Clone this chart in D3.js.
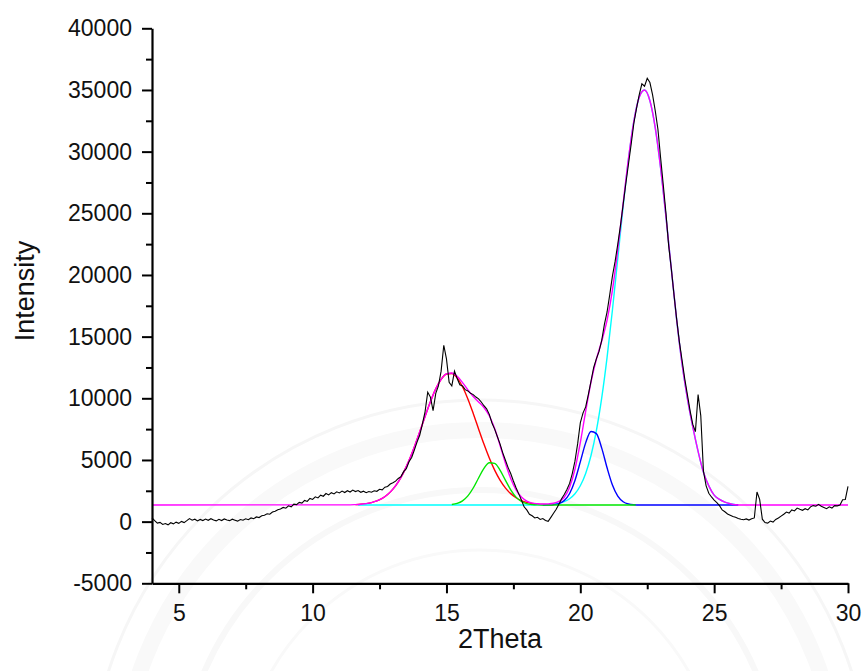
<!DOCTYPE html>
<html>
<head>
<meta charset="utf-8">
<script src="https://cdn.jsdelivr.net/npm/d3@7"></script>
<style>
  html, body { margin: 0; padding: 0; background: #fff; }
  svg { display: block; }
  text { font-family: "Liberation Sans", Arial, sans-serif; fill: #111; }
</style>
</head>
<body>
<svg id="chart" width="863" height="671"></svg>
<script>
// ---- measured XRD pattern (2Theta, intensity), step 0.1 deg ----
const scanStart = 4.0;
const scanStep = 0.1;
const intensity = [
  300, 80, -120, -60, -230, -150, -260, -90, -180, -40,
  -140, 20, -80, 80, 250, 120, 200, 60, 180, 90,
  210, 110, 240, 130, 60, 190, 90, 220, 140, 80,
  200, 120, 40, 170, 110, 230, 160, 300, 240, 380,
  330, 470, 520, 640, 600, 780, 850, 960, 1020, 1150,
  1090, 1280, 1200, 1420, 1380, 1560, 1500, 1720, 1640, 1880,
  1800, 2010, 1920, 2150, 2060, 2280, 2170, 2350, 2250, 2420,
  2330, 2480, 2360, 2510, 2400, 2560, 2440, 2520, 2380, 2470,
  2350, 2440, 2380, 2500, 2460, 2620, 2580, 2790, 2850, 3050,
  3150, 3280, 3500, 3650, 4050, 4300, 4850, 5200, 5800, 6450,
  7000, 7900, 8900, 10500, 10100, 9000, 10400, 11000, 12200, 14300,
  13200, 11300, 11000, 12200, 11600, 11100, 11000, 10700, 10600, 10400,
  10300, 10100, 9950, 9700, 9400, 9150, 8700, 8000, 7500, 6900,
  6300, 5600, 5000, 4400, 3900, 3300, 2750, 2250, 1750, 1200,
  950, 600, 480, 300, 350, 180, 250, 100, 30, 350,
  680, 1000, 1400, 1850, 2200, 2600, 3100, 3900, 4900, 6300,
  8000, 8800, 9300, 10300, 11400, 12500, 13200, 13800, 14700, 16000,
  17000, 18400, 19900, 21100, 22500, 24000, 25700, 27400, 29000, 30600,
  32300, 33500, 34600, 35500, 35300, 35950, 35600, 34600, 33300, 31800,
  29500, 27300, 25000, 22400, 20500, 18400, 16400, 14600, 13100, 11600,
  10300, 9000, 7900, 7300, 10300, 8600, 4100, 2900, 2300, 2000,
  1750, 1550, 1300, 950, 800, 620, 520, 420, 350, 260,
  200, 150, 220, 130, 240, 300, 2400, 1800, 200, -80,
  -120, 50, -40, 180, 300, 450, 600, 780, 700, 950,
  870, 1100, 1000, 920, 1050, 950, 1200, 1300, 1250, 1400,
  1250, 1150, 1050, 1200, 1100, 1300, 1280, 1350, 1780, 1800,
  2850
];

// ---- fitted peaks: [2Theta, intensity] pairs ----
const peakRed = [
  [11.6, 1381], [11.8, 1409], [12.0, 1458], [12.2, 1541], [12.4, 1676],
  [12.6, 1885], [12.8, 2194], [13.0, 2633], [13.2, 3228], [13.4, 3999],
  [13.6, 4945], [13.8, 6049], [14.0, 7266], [14.2, 8522], [14.4, 9721],
  [14.6, 10760], [14.8, 11536], [15.0, 11967], [15.2, 12008], [15.4, 11652],
  [15.6, 10939], [15.8, 9945], [16.0, 8769], [16.2, 7516], [16.4, 6286],
  [16.6, 5155], [16.8, 4173], [17.0, 3368], [17.2, 2739], [17.4, 2270],
  [17.6, 1938], [17.8, 1711], [18.0, 1564], [18.2, 1472], [18.4, 1417],
  [18.6, 1385], [18.8, 1368], [19.0, 1359]
];
const peakGreen = [
  [15.2, 1393], [15.4, 1481], [15.6, 1687], [15.8, 2087], [16.0, 2726],
  [16.2, 3539], [16.4, 4317], [16.6, 4776], [16.8, 4721], [17.0, 4177],
  [17.2, 3371], [17.4, 2580], [17.6, 1988], [17.8, 1632], [18.0, 1456],
  [18.2, 1384], [18.4, 1359], [18.6, 1352], [18.8, 1350], [22.07, 1350]
];
const peakBlue = [
  [18.6, 1351], [18.8, 1356], [19.0, 1379], [19.2, 1462], [19.4, 1707],
  [19.6, 2280], [19.8, 3341], [20.0, 4845], [20.2, 6387], [20.4, 7308],
  [20.6, 7133], [20.8, 5958], [21.0, 4364], [21.2, 2968], [21.4, 2063],
  [21.6, 1608], [21.8, 1426], [22.0, 1369], [22.2, 1354], [25.9, 1350]
];
const peakCyan = [
  [11.7, 1350], [18.2, 1352], [18.4, 1356], [18.6, 1364], [18.8, 1382],
  [19.0, 1418], [19.2, 1489], [19.4, 1622], [19.6, 1858], [19.8, 2259],
  [20.0, 2907], [20.2, 3904], [20.4, 5361], [20.6, 7380], [20.8, 10035],
  [21.0, 13323], [21.2, 17159], [21.4, 21335], [21.6, 25541], [21.8, 29387],
  [22.0, 32463], [22.2, 34415], [22.4, 34993], [22.6, 34126], [22.8, 31928],
  [23.0, 28664], [23.2, 24713], [23.4, 20487], [23.6, 16355], [23.8, 12800],
  [24.0, 10000], [24.2, 7700], [24.4, 5700], [24.6, 4000], [24.8, 2900],
  [25.0, 2150], [25.2, 1800], [25.4, 1580], [25.6, 1450], [25.8, 1370],
  [25.9, 1355]
];
// cumulative fit
const fitSum = [
  [4.0, 1350], [11.4, 1362], [11.6, 1381], [11.8, 1409], [12.0, 1458],
  [12.2, 1541], [12.4, 1676], [12.6, 1885], [12.8, 2194], [13.0, 2633],
  [13.2, 3228], [13.4, 3999], [13.6, 4945], [13.8, 6049], [14.0, 7266],
  [14.2, 8522], [14.4, 9721], [14.6, 10761], [14.8, 11539], [15.0, 11979],
  [15.2, 12051], [15.4, 11783], [15.6, 11276], [15.8, 10682], [16.0, 10145],
  [16.2, 9705], [16.4, 9253], [16.6, 8581], [16.8, 7544], [17.0, 6195],
  [17.2, 4760], [17.4, 3500], [17.6, 2576], [17.8, 1993], [18.0, 1670],
  [18.2, 1506], [18.4, 1450], [18.6, 1430], [18.8, 1440], [19.0, 1490],
  [19.2, 1640], [19.4, 1979], [19.6, 2788], [19.8, 4250], [20.0, 6402],
  [20.2, 8941], [20.4, 11319], [20.6, 13163], [20.8, 14643], [21.0, 16337],
  [21.2, 18777], [21.4, 22048], [21.6, 25799], [21.8, 29463], [22.0, 32482],
  [22.2, 34419], [22.4, 34993], [22.6, 34126], [22.8, 31928], [23.0, 28664],
  [23.2, 24713], [23.4, 20487], [23.6, 16355], [23.8, 12800], [24.0, 10000],
  [24.2, 7700], [24.4, 5700], [24.6, 4000], [24.8, 2900], [25.0, 2150],
  [25.2, 1800], [25.4, 1580], [25.6, 1450], [25.8, 1370], [26.0, 1352],
  [30.0, 1350]
];

// ---- axis ticks ----
const xMajorTicks = [5, 10, 15, 20, 25, 30];
const xMinorTicks = [7.5, 12.5, 17.5, 22.5, 27.5];
const yMajorTicks = [-5000, 0, 5000, 10000, 15000, 20000, 25000, 30000, 35000, 40000];
const yMinorTicks = [-2500, 2500, 7500, 12500, 17500, 22500, 27500, 32500, 37500];
const xTitle = "2Theta";
const yTitle = "Intensity";

const svg = d3.select("#chart");
const plot = { left: 152, right: 848, top: 28.3, bottom: 583.3 };

const x = d3.scaleLinear().domain([4, 30]).range([plot.left, plot.right]);
const y = d3.scaleLinear().domain([-5000, 40000]).range([plot.bottom, plot.top]);

// very faint background seal
const seal = svg.append("g").attr("fill", "none");
[[390, 3, "#f6f6f6"], [360, 16, "#f9f9f9"], [300, 6, "#f8f8f8"], [240, 3, "#f9f9f9"]].forEach(([r, w, c]) => {
  seal.append("circle").attr("cx", 480).attr("cy", 790).attr("r", r)
    .attr("stroke", c).attr("stroke-width", w);
});

const line = d3.line()
  .x(d => x(d[0]))
  .y(d => y(d[1]))
  .curve(d3.curveMonotoneX);

const scan = intensity.map((v, i) => [scanStart + i * scanStep, v]);

const curves = svg.append("g");
curves.append("path").datum(peakRed).attr("d", line)
  .attr("fill", "none").attr("stroke", "#ff0000").attr("stroke-width", 1.4);
curves.append("path").datum(peakCyan).attr("d", line)
  .attr("fill", "none").attr("stroke", "#00ffff").attr("stroke-width", 1.4);
curves.append("path").datum(peakBlue).attr("d", line)
  .attr("fill", "none").attr("stroke", "#0000ff").attr("stroke-width", 1.4);
curves.append("path").datum(peakGreen).attr("d", line)
  .attr("fill", "none").attr("stroke", "#00e600").attr("stroke-width", 1.4);
curves.append("path").datum(fitSum).attr("d", line)
  .attr("fill", "none").attr("stroke", "#ff00ff").attr("stroke-width", 1.4);
curves.append("path").datum(scan)
  .attr("d", d3.line().x(d => x(d[0])).y(d => y(d[1])))
  .attr("fill", "none").attr("stroke", "#000").attr("stroke-width", 1.1)
  .attr("stroke-linejoin", "miter");

// ---- axes ----
const plainNumber = d => String(d);   // plain hyphen for negatives
const fontTick = 23;
svg.append("g").attr("transform", `translate(0,${plot.bottom})`)
  .call(d3.axisBottom(x).tickValues(xMajorTicks).tickSize(10).tickSizeOuter(0)
    .tickPadding(11).tickFormat(plainNumber));
svg.append("g").attr("transform", `translate(0,${plot.bottom})`)
  .call(d3.axisBottom(x).tickValues(xMinorTicks).tickSize(6).tickFormat(""))
  .select(".domain").remove();

svg.append("g").attr("transform", `translate(${plot.left},0)`)
  .call(d3.axisLeft(y).tickValues(yMajorTicks).tickSize(10).tickSizeOuter(0)
    .tickPadding(10).tickFormat(plainNumber));
svg.append("g").attr("transform", `translate(${plot.left},0)`)
  .call(d3.axisLeft(y).tickValues(yMinorTicks).tickSize(6).tickFormat(""))
  .select(".domain").remove();

svg.selectAll(".domain").attr("stroke", "#000").attr("stroke-width", 2.2);
svg.selectAll(".tick line").attr("stroke", "#000").attr("stroke-width", 2);
svg.selectAll(".tick text")
  .attr("font-family", "'Liberation Sans', Arial, sans-serif")
  .attr("font-size", fontTick).attr("fill", "#111");

// ---- titles ----
svg.append("text").attr("x", (plot.left + plot.right) / 2).attr("y", 648)
  .attr("text-anchor", "middle").attr("font-size", 27).text(xTitle);
svg.append("text").attr("transform", "translate(34,291) rotate(-90)")
  .attr("text-anchor", "middle").attr("font-size", 27).text(yTitle);
</script>
</body>
</html>
